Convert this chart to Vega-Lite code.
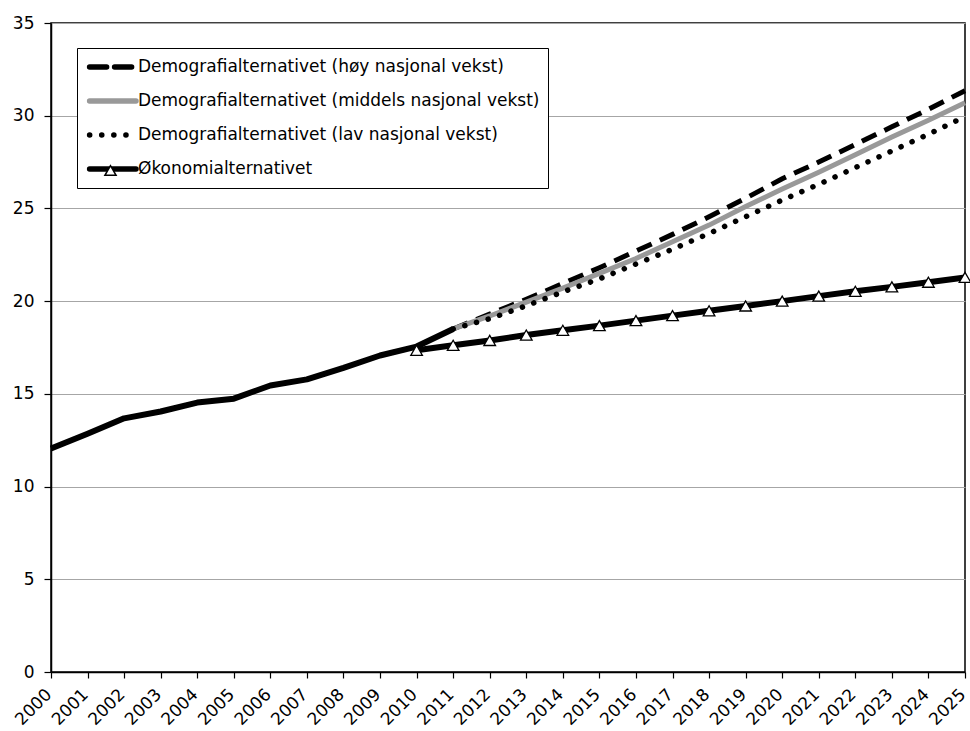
{
  "$schema": "https://vega.github.io/schema/vega-lite/v6.json",
  "autosize": "none",
  "width": 914,
  "height": 649,
  "padding": {"left": 51, "top": 23, "right": 5, "bottom": 59},
  "background": "white",
  "config": {
    "font": "DejaVu Sans",
    "view": {"stroke": "#000000", "strokeWidth": 1.5},
    "axis": {"labelFont": "DejaVu Sans", "labelColor": "#000", "labelFontSize": 17, "domainColor": "#000", "tickColor": "#000", "domainWidth": 1.5, "tickWidth": 1.2}
  },
  "datasets": {
    "d": [
      {"year": 2000, "series": "Historisk", "value": 12.05},
      {"year": 2001, "series": "Historisk", "value": 12.85},
      {"year": 2002, "series": "Historisk", "value": 13.68},
      {"year": 2003, "series": "Historisk", "value": 14.05},
      {"year": 2004, "series": "Historisk", "value": 14.53},
      {"year": 2005, "series": "Historisk", "value": 14.74},
      {"year": 2006, "series": "Historisk", "value": 15.45},
      {"year": 2007, "series": "Historisk", "value": 15.78},
      {"year": 2008, "series": "Historisk", "value": 16.4},
      {"year": 2009, "series": "Historisk", "value": 17.07},
      {"year": 2010, "series": "Historisk", "value": 17.55},
      {"year": 2011, "series": "Historisk", "value": 18.5},
      {"year": 2011, "series": "Demografialternativet (høy nasjonal vekst)", "value": 18.5},
      {"year": 2012, "series": "Demografialternativet (høy nasjonal vekst)", "value": 19.3},
      {"year": 2013, "series": "Demografialternativet (høy nasjonal vekst)", "value": 20.1},
      {"year": 2014, "series": "Demografialternativet (høy nasjonal vekst)", "value": 20.95},
      {"year": 2015, "series": "Demografialternativet (høy nasjonal vekst)", "value": 21.8},
      {"year": 2016, "series": "Demografialternativet (høy nasjonal vekst)", "value": 22.7},
      {"year": 2017, "series": "Demografialternativet (høy nasjonal vekst)", "value": 23.6},
      {"year": 2018, "series": "Demografialternativet (høy nasjonal vekst)", "value": 24.55},
      {"year": 2019, "series": "Demografialternativet (høy nasjonal vekst)", "value": 25.55},
      {"year": 2020, "series": "Demografialternativet (høy nasjonal vekst)", "value": 26.6},
      {"year": 2021, "series": "Demografialternativet (høy nasjonal vekst)", "value": 27.5},
      {"year": 2022, "series": "Demografialternativet (høy nasjonal vekst)", "value": 28.45},
      {"year": 2023, "series": "Demografialternativet (høy nasjonal vekst)", "value": 29.4},
      {"year": 2024, "series": "Demografialternativet (høy nasjonal vekst)", "value": 30.35},
      {"year": 2025, "series": "Demografialternativet (høy nasjonal vekst)", "value": 31.35},
      {"year": 2011, "series": "Demografialternativet (middels nasjonal vekst)", "value": 18.5},
      {"year": 2012, "series": "Demografialternativet (middels nasjonal vekst)", "value": 19.2},
      {"year": 2013, "series": "Demografialternativet (middels nasjonal vekst)", "value": 19.95},
      {"year": 2014, "series": "Demografialternativet (middels nasjonal vekst)", "value": 20.7},
      {"year": 2015, "series": "Demografialternativet (middels nasjonal vekst)", "value": 21.5},
      {"year": 2016, "series": "Demografialternativet (middels nasjonal vekst)", "value": 22.3},
      {"year": 2017, "series": "Demografialternativet (middels nasjonal vekst)", "value": 23.2},
      {"year": 2018, "series": "Demografialternativet (middels nasjonal vekst)", "value": 24.1},
      {"year": 2019, "series": "Demografialternativet (middels nasjonal vekst)", "value": 25.1},
      {"year": 2020, "series": "Demografialternativet (middels nasjonal vekst)", "value": 26.05},
      {"year": 2021, "series": "Demografialternativet (middels nasjonal vekst)", "value": 26.95},
      {"year": 2022, "series": "Demografialternativet (middels nasjonal vekst)", "value": 27.9},
      {"year": 2023, "series": "Demografialternativet (middels nasjonal vekst)", "value": 28.85},
      {"year": 2024, "series": "Demografialternativet (middels nasjonal vekst)", "value": 29.75},
      {"year": 2025, "series": "Demografialternativet (middels nasjonal vekst)", "value": 30.7},
      {"year": 2011, "series": "Demografialternativet (lav nasjonal vekst)", "value": 18.5},
      {"year": 2012, "series": "Demografialternativet (lav nasjonal vekst)", "value": 19.05},
      {"year": 2013, "series": "Demografialternativet (lav nasjonal vekst)", "value": 19.75},
      {"year": 2014, "series": "Demografialternativet (lav nasjonal vekst)", "value": 20.5},
      {"year": 2015, "series": "Demografialternativet (lav nasjonal vekst)", "value": 21.2},
      {"year": 2016, "series": "Demografialternativet (lav nasjonal vekst)", "value": 22.0},
      {"year": 2017, "series": "Demografialternativet (lav nasjonal vekst)", "value": 22.8},
      {"year": 2018, "series": "Demografialternativet (lav nasjonal vekst)", "value": 23.65},
      {"year": 2019, "series": "Demografialternativet (lav nasjonal vekst)", "value": 24.55},
      {"year": 2020, "series": "Demografialternativet (lav nasjonal vekst)", "value": 25.45},
      {"year": 2021, "series": "Demografialternativet (lav nasjonal vekst)", "value": 26.3},
      {"year": 2022, "series": "Demografialternativet (lav nasjonal vekst)", "value": 27.2},
      {"year": 2023, "series": "Demografialternativet (lav nasjonal vekst)", "value": 28.1},
      {"year": 2024, "series": "Demografialternativet (lav nasjonal vekst)", "value": 29.0},
      {"year": 2025, "series": "Demografialternativet (lav nasjonal vekst)", "value": 29.95},
      {"year": 2010, "series": "Økonomialternativet", "value": 17.35},
      {"year": 2011, "series": "Økonomialternativet", "value": 17.62},
      {"year": 2012, "series": "Økonomialternativet", "value": 17.88},
      {"year": 2013, "series": "Økonomialternativet", "value": 18.17},
      {"year": 2014, "series": "Økonomialternativet", "value": 18.43},
      {"year": 2015, "series": "Økonomialternativet", "value": 18.68},
      {"year": 2016, "series": "Økonomialternativet", "value": 18.95},
      {"year": 2017, "series": "Økonomialternativet", "value": 19.22},
      {"year": 2018, "series": "Økonomialternativet", "value": 19.48},
      {"year": 2019, "series": "Økonomialternativet", "value": 19.74},
      {"year": 2020, "series": "Økonomialternativet", "value": 20.0},
      {"year": 2021, "series": "Økonomialternativet", "value": 20.27},
      {"year": 2022, "series": "Økonomialternativet", "value": 20.53},
      {"year": 2023, "series": "Økonomialternativet", "value": 20.77},
      {"year": 2024, "series": "Økonomialternativet", "value": 21.02},
      {"year": 2025, "series": "Økonomialternativet", "value": 21.28}
    ]
  },
  "data": {"name": "d"},
  "encoding": {
    "x": {
      "field": "year", "type": "quantitative",
      "scale": {"domain": [2000, 2025], "nice": false, "zero": false},
      "axis": {"title": null, "values": [2000,2001,2002,2003,2004,2005,2006,2007,2008,2009,2010,2011,2012,2013,2014,2015,2016,2017,2018,2019,2020,2021,2022,2023,2024,2025],
        "format": "d", "labelAngle": -45, "labelAlign": "right", "labelBaseline": "bottom", "labelPadding": 20, "labelOffset": 4, "tickSize": 6, "grid": false, "labelFlush": false, "labelOverlap": false, "labelBound": false}
    },
    "y": {
      "field": "value", "type": "quantitative",
      "scale": {"domain": [0, 35], "nice": false},
      "axis": {"title": null, "values": [0,5,10,15,20,25,30,35], "tickSize": 7, "labelPadding": 10, "grid": true, "gridColor": "#a6a6a6", "gridWidth": 1.2, "labelFlush": false}
    }
  },
  "layer": [
    {
      "transform": [{"filter": "datum.series === 'Demografialternativet (høy nasjonal vekst)'"}],
      "mark": {"type": "line", "strokeWidth": 5, "strokeDash": [16, 9], "strokeCap": "butt"},
      "encoding": {
        "color": {
          "field": "series", "type": "nominal",
          "scale": {"domain": ["Demografialternativet (høy nasjonal vekst)", "Demografialternativet (middels nasjonal vekst)", "Demografialternativet (lav nasjonal vekst)", "Økonomialternativet"], "range": ["#000000", "#999999", "#000000", "#000000"]},
          "legend": {
            "title": null, "orient": "none", "legendX": 26, "legendY": 25,
            "fillColor": "white", "strokeColor": "#000", "padding": 8,
            "symbolType": "M-0.8,0H5.0", "symbolSize": 256, "symbolStrokeWidth": 5.5,
            "labelFont": "DejaVu Sans", "labelFontSize": 17, "labelColor": "#000", "labelOffset": 31, "rowPadding": 12,
            "labelLimit": 600,
            "encode": {
              "symbols": {"update": {
                "strokeDash": {"signal": "datum.value === 'Demografialternativet (høy nasjonal vekst)' ? [17, 8] : datum.value === 'Demografialternativet (lav nasjonal vekst)' ? [0.1, 12] : []"},
                "strokeCap": {"value": "round"}
              }}
            }
          }
        }
      }
    },
    {
      "transform": [{"filter": "datum.series === 'Demografialternativet (middels nasjonal vekst)'"}],
      "mark": {"type": "line", "strokeWidth": 5},
      "encoding": {"color": {"field": "series", "type": "nominal"}}
    },
    {
      "transform": [{"filter": "datum.series === 'Demografialternativet (lav nasjonal vekst)'"}],
      "mark": {"type": "line", "strokeWidth": 5.5, "strokeDash": [0.1, 12], "strokeCap": "round"},
      "encoding": {"color": {"field": "series", "type": "nominal"}}
    },
    {
      "transform": [{"filter": "datum.series === 'Historisk' || datum.series === 'Økonomialternativet'"}],
      "mark": {"type": "line", "strokeWidth": 6, "color": "#000000", "strokeJoin": "round"},
      "encoding": {"detail": {"field": "series", "type": "nominal"}}
    },
    {
      "transform": [{"filter": "datum.series === 'Økonomialternativet'"}],
      "mark": {"type": "point", "filled": true, "fill": "white", "stroke": "#000", "strokeWidth": 1.3, "opacity": 1, "size": 135},
      "encoding": {
        "shape": {
          "field": "series", "type": "nominal",
          "scale": {"domain": ["Økonomialternativet"], "range": ["triangle-up"]},
          "legend": {"title": null, "orient": "none", "legendX": 53, "legendY": 141, "padding": 0, "symbolSize": 125, "labelFontSize": 1, "labelOffset": 0,
            "encode": {
              "symbols": {"update": {"fill": {"value": "white"}, "stroke": {"value": "#000000"}, "strokeWidth": {"value": 1.2}, "opacity": {"value": 1}}},
              "labels": {"update": {"opacity": {"value": 0}}}
            }
          }
        }
      }
    }
  ]
}
